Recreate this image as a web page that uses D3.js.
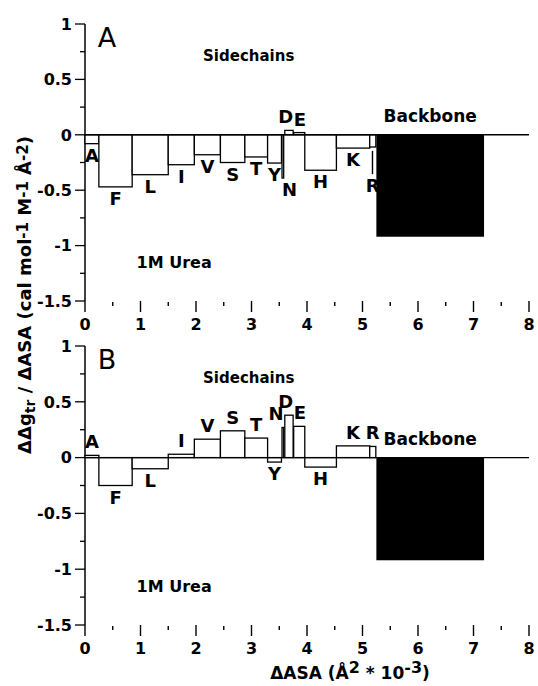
<!DOCTYPE html>
<html>
<head>
<meta charset="utf-8">
<script src="https://cdn.jsdelivr.net/npm/d3@7"></script>
<style>
  body { margin: 0; background: #fff; }
  text { font-family: "DejaVu Sans", sans-serif; font-weight: bold; }
</style>
</head>
<body>
<script>
// residue categories and their ASA extents (x in 1000 A^2)
var residues = ["A", "F", "L", "I", "V", "S", "T", "Y", "N", "D", "E", "H", "K", "R"];
var asaStart = [0, 0.25, 0.85, 1.5, 1.97, 2.44, 2.88, 3.29, 3.55, 3.60, 3.76, 3.96, 4.53, 5.13];
var asaEnd   = [0.25, 0.85, 1.5, 1.97, 2.44, 2.88, 3.29, 3.54, 3.58, 3.75, 3.96, 4.53, 5.13, 5.24];
var backboneAsa = [5.25, 7.19];

// ddg_tr / dASA per residue
var valuesA = [-0.08, -0.47, -0.36, -0.27, -0.18, -0.25, -0.2, -0.255, -0.39, 0.04, 0.02, -0.32, -0.12, -0.11];
var valuesB = [0.02, -0.25, -0.1, 0.03, 0.165, 0.24, 0.175, -0.04, 0.27, 0.38, 0.28, -0.085, 0.105, 0.1];
var backboneA = -0.92;
var backboneB = -0.92;
// the stray vertical stroke under R in panel A: [x, from, to]
var rTailA = [5.18, -0.145, -0.355];

var yTicks = [1, 0.5, 0, -0.5, -1, -1.5];
var yMinor = [0.75, 0.25, -0.25, -0.75, -1.25];
var xTicks = [0, 1, 2, 3, 4, 5, 6, 7, 8];
var xMinor = [0.5, 1.5, 2.5, 3.5, 4.5, 5.5, 6.5, 7.5];

// how the crowded labels hang off their bars in each panel
var anchorA = {N: "start", D: "end", E: "start"};
var anchorB = {N: "end", D: "end", E: "start"};

var w = 538, h = 686;
var svg = d3.select("body").append("svg")
    .attr("width", w)
    .attr("height", h);

var x = d3.scaleLinear().domain([0, 8]).range([85, 529]);

function panel(letter, values, backbone, top, bottom, tail, anchors) {
    var y = d3.scaleLinear().domain([1, -1.5]).range([top, bottom]);
    var g = svg.append("g");

    // y axis line + ticks
    g.append("line")
        .attr("x1", x(0)).attr("x2", x(0))
        .attr("y1", y(1)).attr("y2", y(-1.5))
        .attr("stroke", "#000").attr("stroke-width", 1.5);
    g.selectAll(".ymaj").data(yTicks).enter().append("line")
        .attr("x1", x(0) - 10).attr("x2", x(0))
        .attr("y1", function(d) { return y(d); })
        .attr("y2", function(d) { return y(d); })
        .attr("stroke", "#000").attr("stroke-width", 1.3);
    g.selectAll(".ymin").data(yMinor).enter().append("line")
        .attr("x1", x(0) - 5).attr("x2", x(0))
        .attr("y1", function(d) { return y(d); })
        .attr("y2", function(d) { return y(d); })
        .attr("stroke", "#000").attr("stroke-width", 1.3);
    g.selectAll(".ylab").data(yTicks).enter().append("text")
        .attr("x", x(0) - 13)
        .attr("y", function(d) { return y(d); })
        .attr("dy", "0.36em")
        .attr("text-anchor", "end")
        .attr("font-size", 16)
        .text(function(d) { return d; });

    // x ticks hang below the bottom of the y range, no domain line
    var base = y(-1.5);
    g.selectAll(".xmaj").data(xTicks).enter().append("line")
        .attr("x1", function(d) { return x(d); })
        .attr("x2", function(d) { return x(d); })
        .attr("y1", base).attr("y2", base + 11)
        .attr("stroke", "#000").attr("stroke-width", 1.4);
    g.selectAll(".xmin").data(xMinor).enter().append("line")
        .attr("x1", function(d) { return x(d); })
        .attr("x2", function(d) { return x(d); })
        .attr("y1", base + 1).attr("y2", base + 5)
        .attr("stroke", "#000").attr("stroke-width", 1.4);
    g.selectAll(".xlab").data(xTicks).enter().append("text")
        .attr("x", function(d) { return x(d); })
        .attr("y", base + 29)
        .attr("text-anchor", "middle")
        .attr("font-size", 16)
        .text(function(d) { return d; });

    // tail stroke drawn first so the R box sits over it
    if (tail) {
        g.append("line")
            .attr("x1", x(tail[0])).attr("x2", x(tail[0]))
            .attr("y1", y(tail[1])).attr("y2", y(tail[2]))
            .attr("stroke", "#000").attr("stroke-width", 1.4);
    }

    // sidechain bars
    g.selectAll(".bar").data(values).enter().append("rect")
        .attr("x", function(d, i) { return x(asaStart[i]); })
        .attr("width", function(d, i) { return x(asaEnd[i]) - x(asaStart[i]); })
        .attr("y", function(d) { return y(Math.max(0, d)); })
        .attr("height", function(d) { return Math.abs(y(d) - y(0)); })
        .attr("fill", "#fff")
        .attr("stroke", "#000")
        .attr("stroke-width", 1.3);

    // backbone bar
    g.append("rect")
        .attr("x", x(backboneAsa[0]))
        .attr("width", x(backboneAsa[1]) - x(backboneAsa[0]))
        .attr("y", y(0))
        .attr("height", y(backbone) - y(0))
        .attr("fill", "#000");

    // zero line
    g.append("line")
        .attr("x1", x(0)).attr("x2", x(8))
        .attr("y1", y(0)).attr("y2", y(0))
        .attr("stroke", "#000").attr("stroke-width", 1.4);

    // residue labels
    g.selectAll(".rlab").data(values).enter().append("text")
        .attr("x", function(d, i) {
            var a = anchors[residues[i]];
            if (a === "start") return x(asaStart[i]);
            if (a === "end") return x(asaEnd[i]);
            return x((asaStart[i] + asaEnd[i]) / 2);
        })
        .attr("y", function(d, i) {
            var low = d;
            if (tail && residues[i] === "R") low = Math.min(d, tail[2]);
            return d >= 0 ? y(d) - 7 : y(low) + 18;
        })
        .attr("text-anchor", function(d, i) { return anchors[residues[i]] || "middle"; })
        .attr("font-size", 18)
        .text(function(d, i) { return residues[i]; });

    // annotations
    g.append("text")
        .attr("x", x(0.23)).attr("y", y(1) + 23)
        .attr("font-size", 27)
        .style("font-weight", "normal")
        .text(letter);
    g.append("text")
        .attr("x", x(2.95)).attr("y", y(1) + 37)
        .attr("text-anchor", "middle")
        .attr("font-size", 15)
        .text("Sidechains");
    g.append("text")
        .attr("x", x(6.22)).attr("y", y(0) - 13)
        .attr("text-anchor", "middle")
        .attr("font-size", 17)
        .text("Backbone");
    g.append("text")
        .attr("x", x(0.93)).attr("y", y(-1.2))
        .attr("font-size", 16)
        .text("1M Urea");
}

panel("A", valuesA, backboneA, 24, 301, rTailA, anchorA);
panel("B", valuesB, backboneB, 346, 625, null, anchorB);

// y axis title
var yt = svg.append("text")
    .attr("transform", "translate(31,295) rotate(-90)")
    .attr("text-anchor", "middle")
    .attr("font-size", 18);
yt.append("tspan").text("\u0394\u0394g");
yt.append("tspan").attr("baseline-shift", "-25%").attr("font-size", 14).text("tr");
yt.append("tspan").text(" / \u0394ASA  (cal mol");
yt.append("tspan").attr("baseline-shift", "20%").attr("font-size", 15).text("-1");
yt.append("tspan").text(" M");
yt.append("tspan").attr("baseline-shift", "20%").attr("font-size", 15).text("-1");
yt.append("tspan").text(" \u00c5");
yt.append("tspan").attr("baseline-shift", "20%").attr("font-size", 15).text("-2");
yt.append("tspan").text(")");

// x axis title
var xt = svg.append("text")
    .attr("x", 350).attr("y", 679)
    .attr("text-anchor", "middle")
    .attr("font-size", 17);
xt.append("tspan").text("\u0394ASA (\u00c5");
xt.append("tspan").attr("baseline-shift", "35%").attr("font-size", 16).text("2");
xt.append("tspan").text(" * 10");
xt.append("tspan").attr("baseline-shift", "35%").attr("font-size", 16).text("-3");
xt.append("tspan").text(")");
</script>
</body>
</html>
